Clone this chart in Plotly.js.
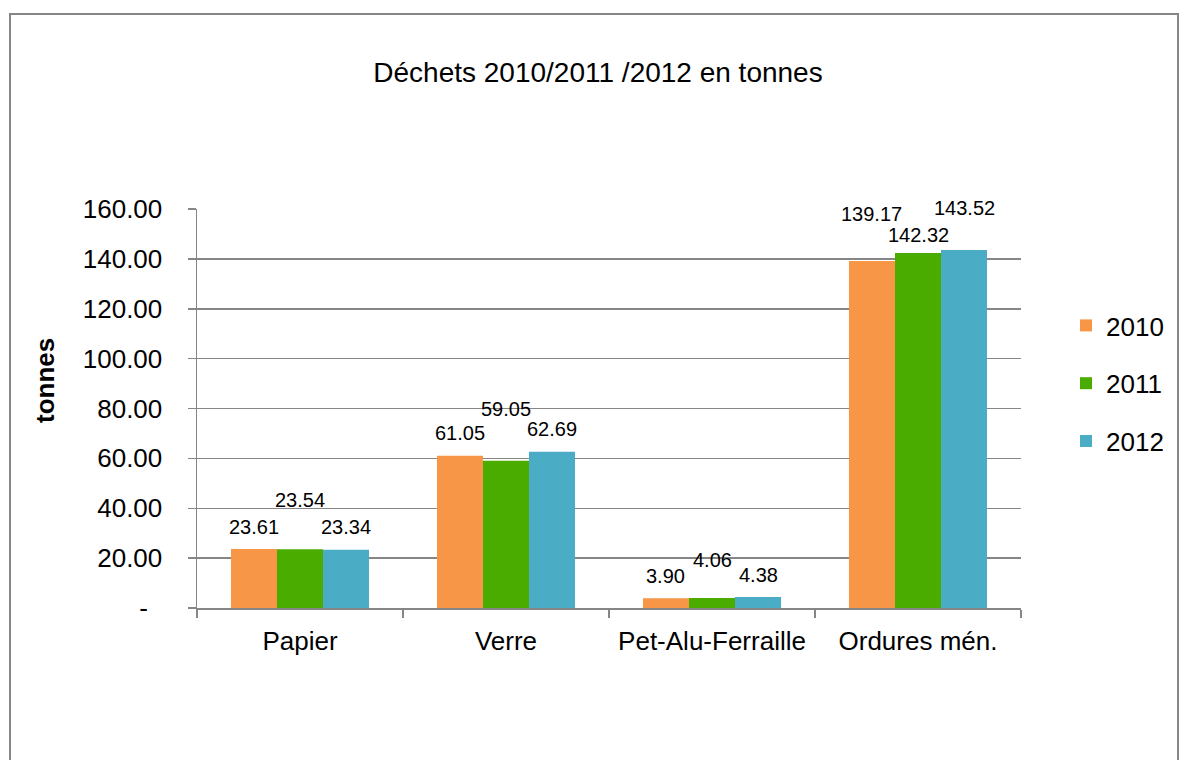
<!DOCTYPE html>
<html>
<head>
<meta charset="utf-8">
<script src="https://cdn.plot.ly/plotly-3.0.1.min.js"></script>
<style>html,body{margin:0;padding:0;background:#fff;}#chart{width:1187px;height:760px;}</style>
</head>
<body>
<div id="chart"></div>
<script>
// ---- data ----
const categories = ["Papier", "Verre", "Pet-Alu-Ferraille", "Ordures mén."];
const years = ["2010", "2011", "2012"];
const v2010 = [23.61, 61.05, 3.90, 139.17];
const v2011 = [23.54, 59.05, 4.06, 142.32];
const v2012 = [23.34, 62.69, 4.38, 143.52];
const yTickVals = [0, 20, 40, 60, 80, 100, 120, 140, 160];
const yTickText = ["-\u00a0\u00a0", "20.00", "40.00", "60.00", "80.00", "100.00", "120.00", "140.00", "160.00"];

// ---- styles ----
const colors = ["#F79646", "#4BAC00", "#4BACC6"];
const labelLift = [[22, 23, 22, 47], [49, 52, 38, 18], [23, 23, 22, 42]];
const font = "Liberation Sans, Arial, sans-serif";
const gray = "#868686";
const bargap = 0.33;

const series = [v2010, v2011, v2012];
const traces = series.map((vals, s) => ({
  type: "bar",
  name: years[s],
  x: categories,
  y: vals,
  legendgroup: years[s],
  marker: {color: colors[s], line: {width: 0}},
  hoverinfo: "x+y+name"
}));

const barW = (1 - bargap) / 3;
const annotations = [];
series.forEach((vals, s) => {
  vals.forEach((v, i) => {
    annotations.push({
      xref: "x", yref: "y",
      x: i + (s - 1) * barW, y: v,
      text: v.toFixed(2),
      showarrow: false,
      yanchor: "middle",
      yshift: labelLift[s][i],
      font: {family: font, size: 20, color: "#000"}
    });
  });
});
annotations.push({
  xref: "paper", yref: "paper",
  x: (45 - 197) / 824, y: (608 - 381) / 399,
  xanchor: "center", yanchor: "middle",
  text: "<b>tonnes</b>", textangle: -90, showarrow: false,
  font: {family: font, size: 26, color: "#000"}
});

const layout = {
  width: 1187, height: 760,
  margin: {l: 197, r: 166, t: 209, b: 152, autoexpand: false},
  paper_bgcolor: "#fff", plot_bgcolor: "#fff",
  font: {family: font, color: "#000"},
  title: {
    text: "Déchets 2010/2011 /2012 en tonnes",
    font: {family: font, size: 28, color: "#000"},
    xref: "container", yref: "container",
    x: 598 / 1187, y: 1 - 72 / 760, xanchor: "center", yanchor: "middle"
  },
  barmode: "group",
  bargap: bargap, bargroupgap: 0,
  xaxis: {
    type: "category",
    showline: true, linecolor: gray, linewidth: 1.5,
    ticks: "outside", tickson: "boundaries", ticklen: 8, tickcolor: gray, tickwidth: 1.5,
    ticklabelstandoff: 9,
    tickfont: {family: font, size: 26, color: "#000"},
    showgrid: false, zeroline: false
  },
  yaxis: {
    range: [0, 160],
    tickvals: yTickVals, ticktext: yTickText,
    showline: true, linecolor: gray, linewidth: 1.5,
    ticks: "outside", ticklen: 8, tickcolor: gray, tickwidth: 1.5,
    ticklabelstandoff: 20,
    tickfont: {family: font, size: 26, color: "#000"},
    showgrid: true, gridcolor: gray, gridwidth: 1.5,
    zeroline: false
  },
  legend: {
    x: (1066 - 197) / 824, y: (608 - 302) / 399,
    xanchor: "left", yanchor: "top",
    traceorder: "grouped", tracegroupgap: 21,
    font: {family: font, size: 26, color: "#000"},
    bgcolor: "rgba(0,0,0,0)"
  },
  shapes: [{
    type: "rect", xref: "paper", yref: "paper",
    x0: (10 - 197) / 824, x1: (1178 - 197) / 824,
    y0: (608 - 800) / 399, y1: (608 - 14) / 399,
    line: {color: gray, width: 2}, fillcolor: "rgba(0,0,0,0)", layer: "below"
  }],
  annotations: annotations,
  showlegend: true
};

Plotly.newPlot("chart", traces, layout, {displayModeBar: false, staticPlot: true});
</script>
</body>
</html>
